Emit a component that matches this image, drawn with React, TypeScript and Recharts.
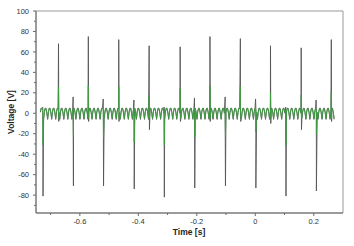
import { LineChart, Line, XAxis, YAxis, ReferenceArea } from 'recharts';

// record span and the background ripple (one cycle)
const timeStart = -0.735;
const timeEnd = 0.27;
const cycleSeconds = 0.0138;
const rawCycle = [1, 5, 5, 0, -6];
const filteredCycle = [2, 5, 4, 1, -5];

// positive spikes
const upSpikeTimes = [-0.673, -0.571, -0.467, -0.363, -0.257, -0.155, -0.051, 0.052, 0.157, 0.26];
const upSpikeRaw = [68, 75, 72, 66, 65, 75, 73, 66, 64, 72];
const upSpikeFiltered = [26, 27, 26, 18, 24, 27, 26, 20, 18, 21];
const upSpikeDip = [-8, -8, -8, -16, -8, -8, -8, -10, -16, -8];

// negative spikes, each with a small positive blip just before
const downSpikeTimes = [-0.726, -0.622, -0.519, -0.414, -0.311, -0.207, -0.102, 0.002, 0.105, 0.209];
const downSpikeRaw = [-81, -71, -71, -74, -82, -73, -71, -73, -81, -76];
const downSpikeFiltered = [-31, -21, -23, -28, -31, -23, -21, -18, -31, -20];
const downSpikeBlip = [6, 16, 14, 13, 6, 15, 16, 14, 6, 13];

const xMajorTicks = [-0.6, -0.4, -0.2, 0, 0.2];
const xMinorTicks = [-0.7, -0.5, -0.3, -0.1, 0.1];
const yMajorTicks = [-80, -60, -40, -20, 0, 20, 40, 60, 80, 100];
const yMinorTicks = [-90, -70, -50, -30, -10, 10, 30, 50, 70, 90];

type Row = { t: number; raw: number; filtered: number };

const rows: Row[] = [];
const step = cycleSeconds / rawCycle.length;
const sampleCount = Math.round((timeEnd - timeStart) / step);
for (let i = 0; i <= sampleCount; i++) {
  const k = i % rawCycle.length;
  rows.push({ t: timeStart + i * step, raw: rawCycle[k], filtered: filteredCycle[k] });
}
upSpikeTimes.forEach((t, i) => {
  rows.push({ t, raw: upSpikeRaw[i], filtered: upSpikeFiltered[i] });
  rows.push({ t: t + 0.001, raw: upSpikeDip[i], filtered: -5 });
});
downSpikeTimes.forEach((t, i) => {
  rows.push({ t: t - 0.001, raw: downSpikeBlip[i], filtered: 4 });
  rows.push({ t, raw: downSpikeRaw[i], filtered: downSpikeFiltered[i] });
});
rows.sort((a, b) => a.t - b.t);

const font = '"Liberation Sans", Arial, Helvetica, sans-serif';
const axisColor = '#6a6a6a';
const labelColor = '#333';

function XTick(props: any) {
  const { x, y, payload } = props;
  const major = xMajorTicks.includes(payload.value);
  return (
    <g>
      <line x1={x} x2={x} y1={y} y2={y + (major ? 3 : 2)} stroke={axisColor} />
      {major && (
        <text x={x} y={y + 11} textAnchor="middle" fontSize={7.5} fill={labelColor} fontFamily={font}>
          {String(payload.value)}
        </text>
      )}
    </g>
  );
}

function YTick(props: any) {
  const { x, y, payload } = props;
  const major = yMajorTicks.includes(payload.value);
  return (
    <g>
      <line x1={x} x2={x - (major ? 3 : 2)} y1={y} y2={y} stroke={axisColor} />
      {major && (
        <text x={x - 7} y={y} dy="0.35em" textAnchor="end" fontSize={7.5} fill={labelColor} fontFamily={font}>
          {String(payload.value)}
        </text>
      )}
    </g>
  );
}

export default function App() {
  return (
    <div style={{ position: 'absolute', left: 0, top: 0, background: '#fff' }}>
      <LineChart width={354} height={246} data={rows} margin={{ top: 11, right: 11, bottom: 0, left: 0 }}>
        <XAxis
          type="number"
          dataKey="t"
          domain={[-0.75, 0.3]}
          ticks={[...xMajorTicks, ...xMinorTicks]}
          interval={0}
          tickSize={0}
          tickMargin={0}
          tickLine={false}
          tick={<XTick />}
          axisLine={{ stroke: axisColor }}
          height={33}
          allowDataOverflow
          label={{
            content: () => (
              <text x={189} y={235} textAnchor="middle" fontSize={8.5} fontWeight="bold" fill="#222" fontFamily={font}>
                Time [s]
              </text>
            ),
          }}
        />
        <YAxis
          type="number"
          domain={[-97.5, 100]}
          ticks={[...yMajorTicks, ...yMinorTicks]}
          interval={0}
          tickSize={0}
          tickMargin={0}
          tickLine={false}
          tick={<YTick />}
          axisLine={{ stroke: axisColor }}
          width={36}
          allowDataOverflow
          label={{
            content: () => (
              <text
                x={11}
                y={112}
                transform="rotate(-90 11 112)"
                dy="0.35em"
                textAnchor="middle"
                fontSize={8.5}
                fontWeight="bold"
                fill="#222"
                fontFamily={font}
              >
                Voltage [V]
              </text>
            ),
          }}
        />
        <ReferenceArea x1={-0.75} x2={0.3} y1={-97.5} y2={100} fill="none" stroke="#999" />
        <Line type="linear" dataKey="raw" stroke="#555" strokeWidth={0.9} dot={false} isAnimationActive={false} />
        <Line type="linear" dataKey="filtered" stroke="#3f9a43" strokeWidth={1} dot={false} isAnimationActive={false} />
      </LineChart>
    </div>
  );
}
